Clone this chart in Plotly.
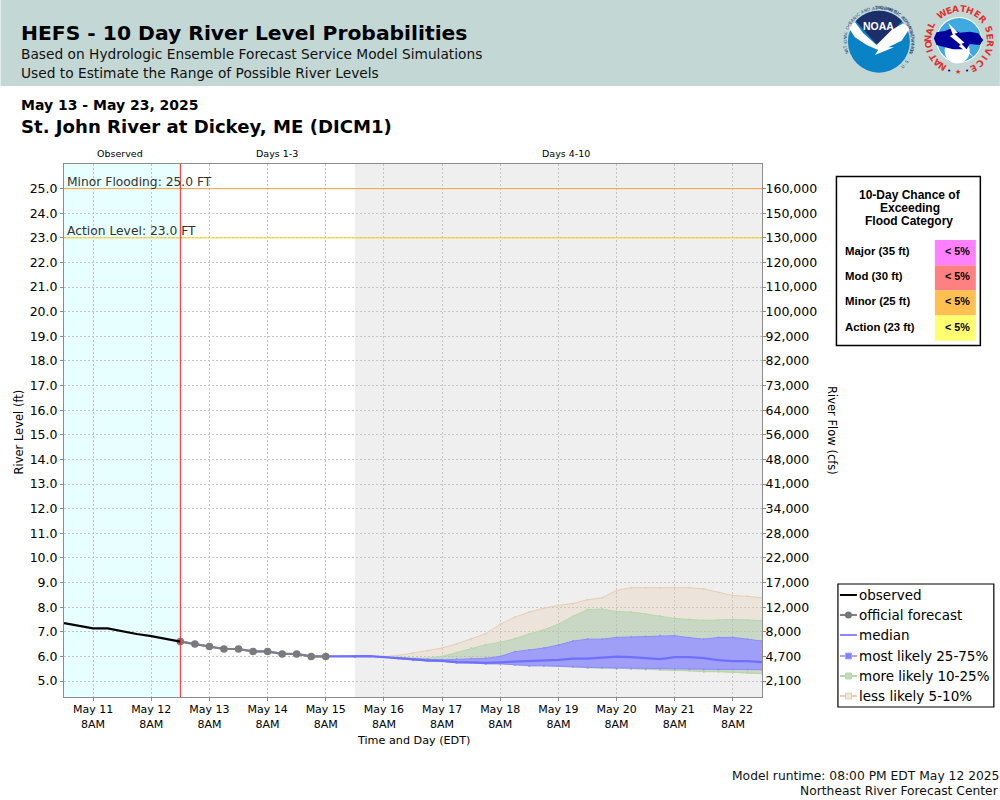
import math
import plotly.graph_objects as go

# ---------- data ----------
obs_times = ["2025-05-10 20:00","2025-05-11 02:00","2025-05-11 08:00","2025-05-11 14:00","2025-05-11 20:00",
             "2025-05-12 02:00","2025-05-12 08:00","2025-05-12 14:00","2025-05-12 20:00"]
obs_level = [7.35,7.25,7.14,7.14,7.02,6.91,6.82,6.72,6.60]

fcst_times = ["2025-05-12 20:00","2025-05-13 02:00","2025-05-13 08:00","2025-05-13 14:00","2025-05-13 20:00",
              "2025-05-14 02:00","2025-05-14 08:00","2025-05-14 14:00","2025-05-14 20:00","2025-05-15 02:00","2025-05-15 08:00"]
fcst_level = [6.6,6.5,6.4,6.3,6.3,6.2,6.2,6.1,6.1,6.0,6.0]

band_times = ["2025-05-15 20:00",
  "2025-05-16 02:00","2025-05-16 08:00","2025-05-16 14:00","2025-05-16 20:00",
  "2025-05-17 02:00","2025-05-17 08:00","2025-05-17 14:00","2025-05-17 20:00",
  "2025-05-18 02:00","2025-05-18 08:00","2025-05-18 14:00","2025-05-18 20:00",
  "2025-05-19 02:00","2025-05-19 08:00","2025-05-19 14:00","2025-05-19 20:00",
  "2025-05-20 02:00","2025-05-20 08:00","2025-05-20 14:00","2025-05-20 20:00",
  "2025-05-21 02:00","2025-05-21 08:00","2025-05-21 14:00","2025-05-21 20:00",
  "2025-05-22 02:00","2025-05-22 08:00","2025-05-22 14:00","2025-05-22 20:00"]
median = [6.0, 6.01,5.97,5.92,5.86, 5.84,5.82,5.77,5.76, 5.74,5.76,5.78,5.82, 5.85,5.86,5.91,5.91,
          5.95,5.99,5.97,5.93, 5.89,5.97,5.97,5.93, 5.85,5.81,5.81,5.77]
p95 = [6.0, 6.01,5.99,6.04,6.14, 6.23,6.34,6.51,6.70, 6.92,7.31,7.59,7.80, 7.96,8.07,8.15,8.30,
       8.38,8.68,8.79,8.79, 8.79,8.79,8.79,8.74, 8.60,8.47,8.44,8.38]
p90 = [6.0, 6.01,5.99,5.95,5.92, 5.92,6.00,6.16,6.34, 6.47,6.57,6.72,6.91, 7.08,7.31,7.63,7.90,
       7.92,7.82,7.80,7.72, 7.64,7.54,7.50,7.46, 7.48,7.50,7.48,7.45]
p75 = [6.0, 6.01,5.97,5.93,5.89, 5.88,5.86,5.89,5.91, 5.92,6.00,6.19,6.26, 6.34,6.46,6.62,6.70,
       6.70,6.77,6.79,6.81, 6.85,6.84,6.76,6.70, 6.77,6.77,6.70,6.62]
p25 = [6.0, 6.01,5.97,5.91,5.84, 5.81,5.80,5.74,5.74, 5.70,5.70,5.66,5.62, 5.62,5.61,5.58,5.55,
       5.54,5.51,5.51,5.50, 5.50,5.49,5.49,5.47, 5.47,5.47,5.47,5.46]
p10 = [6.0, 6.01,5.97,5.91,5.84, 5.81,5.80,5.74,5.74, 5.70,5.70,5.66,5.62, 5.62,5.61,5.57,5.54,
       5.54,5.51,5.50,5.47, 5.46,5.43,5.42,5.38, 5.38,5.35,5.34,5.30]
p05 = list(p10)

stage_ticks = list(range(5, 26))
flow_labels = ["2,100","4,700","8,000","12,000","17,000","22,000","28,000","34,000","41,000","48,000","56,000",
               "64,000","73,000","82,000","92,000","100,000","110,000","120,000","130,000","150,000","160,000"]
day_ticks = ["2025-05-%02d 08:00" % d for d in range(11, 23)]
day_labels = ["May %d<br>8AM" % d for d in range(11, 23)]

x_start, x_end = "2025-05-10 20:00", "2025-05-22 20:00"
fcst_start, ensemble_start = "2025-05-12 20:00", "2025-05-15 20:00"
y_range = [4.35, 26.0]
flood_minor, flood_action = 25.0, 23.0

table_rows = ["Major (35 ft)", "Mod (30 ft)", "Minor (25 ft)", "Action (23 ft)"]
table_vals = ["< 5%", "< 5%", "< 5%", "< 5%"]
table_cols = ["#ff80ff", "#ff8080", "#ffc050", "#ffff70"]
legend_names = ["observed", "official forecast", "median", "most likely 25-75%", "more likely 10-25%", "less likely 5-10%"]

# ---------- layout helpers (pixel frame of the 1000x800 page) ----------
L, R, T, B = 63.5, 762.0, 164.0, 697.0
def px(x): return (x - L) / (R - L)
def py(y): return (B - y) / (B - T)
DJ = "DejaVu Sans"
LS = "Liberation Sans"
INSET = 1.5  # annotations sit slightly inside their anchor

anns, shapes = [], []
def text(x, y, s, size=12, color="#000", font=DJ, bold=False, xa="left", ya="middle", angle=0):
    x = x - INSET if xa == "left" else x + INSET if xa == "right" else x
    anns.append(dict(xref="paper", yref="paper", x=px(x), y=py(y), text=("<b>%s</b>" % s) if bold else s,
                     showarrow=False, xanchor=xa, yanchor=ya, textangle=angle,
                     borderpad=0, font=dict(family=font, size=size, color=color)))
def rect(x0, y0, x1, y1, fill, line=None, lw=0):
    shapes.append(dict(type="rect", xref="paper", yref="paper", x0=px(x0), x1=px(x1), y0=py(y0), y1=py(y1),
                       fillcolor=fill, line=dict(color=line or fill, width=lw), layer="above"))
def seg(x0, y0, x1, y1, color, lw):
    shapes.append(dict(type="line", xref="paper", yref="paper", x0=px(x0), x1=px(x1), y0=py(y0), y1=py(y1),
                       line=dict(color=color, width=lw), layer="above"))
def circle(cx, cy, r, fill):
    shapes.append(dict(type="circle", xref="paper", yref="paper", x0=px(cx-r), x1=px(cx+r), y0=py(cy-r), y1=py(cy+r),
                       fillcolor=fill, line=dict(width=0), layer="above"))
def poly(pts, fill):
    d = "M " + " L ".join("%.5f,%.5f" % (px(a), py(b)) for a, b in pts) + " Z"
    shapes.append(dict(type="path", xref="paper", yref="paper", path=d, fillcolor=fill, line=dict(width=0), layer="above"))
def arc_text(cx, cy, r, s, a0, step, size, color, bold=True, font=LS, flip=False):
    for i, ch in enumerate(s):
        th = math.radians(a0 + i * step)
        x, y = cx + r * math.sin(th), cy - r * math.cos(th)
        if ch != " ":
            text(x, y, ch, size=size, color=color, bold=bold, font=font, xa="center", angle=(a0 + i*step + (180 if flip else 0)))

# header
rect(0, 0, 1000, 86, "#c3d7d4")
text(21, 33, "HEFS - 10 Day River Level Probabilities", 20.3, bold=True)
text(21, 54, "Based on Hydrologic Ensemble Forecast Service Model Simulations", 13.75, color="#111")
text(21, 73, "Used to Estimate the Range of Possible River Levels", 13.75, color="#111")
text(21, 105, "May 13 - May 23, 2025", 14, bold=True)
text(21, 126, "St. John River at Dickey, ME (DICM1)", 18.1, bold=True)

# NOAA emblem
nx, ny = 879, 41.7
circle(nx, ny, 31, "#0a82c6")
navy = [(nx + 31*math.sin(math.radians(a)), ny - 31*math.cos(math.radians(a))) for a in range(-48, 50, 8)]
poly(navy + [(nx+3, ny+2), (nx-3, ny+2)], "#1d2f6b")
z = lambda a, b: (820 + a/3, b/3)
poly([z(85,82), z(105,66), z(130,100), z(170,135), z(215,90), z(250,70), z(270,85), z(245,122), z(205,142),
      z(222,142), z(165,165), z(175,150), z(140,135), z(105,112)], "#ffffff")
text(nx, 25.5, "NOAA", 10.5, color="#ffffff", bold=True, font=LS, xa="center")
arc_text(nx, ny, 34, "NATIONAL OCEANIC AND ATMOSPHERIC ADMINISTRATION", -108, 4.7, 4.2, "#26406f", bold=False, font=DJ)
arc_text(nx, ny, 34, "U.S. DEPARTMENT OF COMMERCE", 136, -3.4*1.6, 4.2, "#26406f", bold=False, font=DJ, flip=True)

# NWS emblem
wx, wy = 959.3, 40
w = lambda a, b: (920 + a/3, b/3)
circle(wx, wy, 23, "#ffffff")
circle(wx, wy, 22, "#3fa9e0")
circle(wx - 2, wy + 11, 12.5, "#ffffff")
poly([w(42,115), w(50,97), w(75,93), w(95,85), w(120,98), w(150,95), w(175,100), w(190,120), w(180,135), w(150,132),
      w(140,148), w(100,148), w(70,140), w(50,135)], "#00009a")
poly([w(85,68), w(114,98), w(104,101), w(134,128), w(125,131), w(162,172), w(116,138), w(123,135), w(90,108), w(99,104)], "#ffffff")
arc_text(wx, wy, 31, "NATIONAL", -148, 12.3, 9, "#e2302f", font=DJ)
arc_text(wx, wy, 31, "WEATHER", -33, 13.5, 9, "#e2302f", font=DJ)
arc_text(wx, wy, 31, "SERVICE", 70, 13.7, 9, "#e2302f", font=DJ)
text(949.3, 71, "•", 7, color="#00009a", xa="center")
text(957.7, 71.5, "★", 7, color="#e2302f", xa="center")
text(966.7, 71, "•", 7, color="#00009a", xa="center")

# period labels
text(120, 153.5, "Observed", 9.5, xa="center")
text(276.5, 153.5, "Days 1-3", 9.5, xa="center")
text(566, 153.5, "Days 4-10", 9.5, xa="center")

# flood labels
text(67, 181.5, "Minor Flooding: 25.0 FT", 12.3, color="#333")
text(67, 231, "Action Level: 23.0 FT", 12.3, color="#333")

# axis titles
text(18, 432, "River Level (ft)", 11.5, xa="center", angle=-90)
text(832, 431, "River Flow (cfs)", 11.5, xa="center", angle=90)
text(413, 740, "Time and Day (EDT)", 11.2, xa="center")
text(999, 776, "Model runtime: 08:00 PM EDT May 12 2025", 12.3, xa="right", color="#111")
text(999, 791, "Northeast River Forecast Center", 12.3, xa="right", color="#111")

# chance table
rect(836.5, 176.5, 980.5, 345.5, "#ffffff", "#000000", 1.5)
text(910, 195, "10-Day Chance of", 12, bold=True, font=LS, xa="center")
text(910, 208, "Exceeding", 12, bold=True, font=LS, xa="center")
text(909, 221, "Flood Category", 12, bold=True, font=LS, xa="center")
for i, (lab, val, col) in enumerate(zip(table_rows, table_vals, table_cols)):
    top = 240 + i * 25.2
    rect(935, top, 976, top + 25.2, col)
    text(846, top + 11, lab, 11.4, bold=True, font=LS)
    text(957.5, top + 11, val, 10.8, bold=True, font=LS, xa="center")

# legend box
rect(838, 584, 994, 707, "#ffffff", "#000000", 1.2)
leg_y = [595, 615, 635, 656, 676, 696]
leg_line = ["#000000", "#808080", "#8a8aff", "#a8a8ff", "#b4d8aa", "#e5cfb3"]
leg_mark = [None, "c", None, "#8080ff", "#c0dcb8", "#efe6da"]
for yy, nm, lc, mk in zip(leg_y, legend_names, leg_line, leg_mark):
    seg(840, yy, 857, yy, lc, 2)
    if mk == "c":
        circle(848.5, yy, 3.5, "#757575")
    elif mk:
        rect(845.5, yy - 3, 851.5, yy + 3, mk, lc, 1)
    text(860, yy, nm, 13.5)

# data-anchored regions and reference lines
shapes += [
    dict(type="rect", xref="x", yref="paper", x0=x_start, x1=fcst_start, y0=0, y1=1, fillcolor="#e8ffff", line=dict(width=0), layer="below"),
    dict(type="rect", xref="x", yref="paper", x0=ensemble_start, x1=x_end, y0=0, y1=1, fillcolor="#efefef", line=dict(width=0), layer="below"),
    dict(type="line", xref="paper", yref="y", x0=0, x1=1, y0=flood_minor, y1=flood_minor, line=dict(color="#ffa040", width=1), layer="above"),
    dict(type="line", xref="paper", yref="y", x0=0, x1=1, y0=flood_action, y1=flood_action, line=dict(color="#f5d020", width=1), layer="above"),
    dict(type="line", xref="x", yref="paper", x0=fcst_start, x1=fcst_start, y0=0, y1=1, line=dict(color="#ff2020", width=1), layer="above"),
]

# ---------- traces ----------
fig = go.Figure()
def band(lo, hi, edge, fill):
    fig.add_trace(go.Scatter(x=band_times, y=lo, mode="lines+markers", line=dict(color=edge, width=1), marker=dict(size=2, color=edge),
                             showlegend=False, hoverinfo="skip"))
    fig.add_trace(go.Scatter(x=band_times, y=hi, mode="lines+markers", line=dict(color=edge, width=1), marker=dict(size=2, color=edge),
                             fill="tonexty", fillcolor=fill, showlegend=False, hoverinfo="skip"))

band(p05, p95, "#e5cfb3", "rgba(229,202,169,0.3)")
band(p10, p90, "#b4d8aa", "rgba(136,194,158,0.35)")
band(p25, p75, "#8c8cff", "rgba(152,149,255,0.85)")

MEDIAN = "#6f6fff"
fig.add_trace(go.Scatter(x=fcst_times + band_times, y=fcst_level + median, mode="lines", line=dict(color=MEDIAN, width=2.2), showlegend=False))
fig.add_trace(go.Scatter(x=fcst_times, y=fcst_level, mode="lines+markers", line=dict(color="#808080", width=2),
                         marker=dict(color="#7a7a7a", size=7.5), showlegend=False))
fig.add_trace(go.Scatter(x=obs_times, y=obs_level, mode="lines", line=dict(color="#000000", width=2.2), showlegend=False))
# right-hand axis carrier
fig.add_trace(go.Scatter(x=[x_start, x_end], y=[5, 5], yaxis="y2", mode="lines", line=dict(width=0), opacity=0, showlegend=False, hoverinfo="skip"))

AXC = "#8c8c8c"
GRID = "#c4c4c4"
fig.update_layout(
    width=1000, height=800, autosize=False, showlegend=False,
    margin=dict(l=L, r=1000-R, t=T, b=800-B, pad=0),
    paper_bgcolor="#ffffff", plot_bgcolor="#ffffff",
    font=dict(family=DJ, size=12, color="#000"),
    hovermode=False, shapes=shapes, annotations=anns,
    xaxis=dict(type="date", range=[x_start, x_end], tickmode="array", tickvals=day_ticks, ticktext=day_labels,
               tickfont=dict(size=11), showgrid=True, griddash="2px,2px", gridcolor=GRID, gridwidth=1, ticklabelstandoff=-1,
               ticks="outside", ticklen=3, tickcolor=AXC, showline=True, linecolor=AXC, linewidth=1, mirror=True, zeroline=False),
    yaxis=dict(range=y_range, tickmode="array", tickvals=stage_ticks, ticktext=["%.1f" % v for v in stage_ticks],
               tickfont=dict(size=12.5), showgrid=True, griddash="2px,2px", gridcolor=GRID, gridwidth=1,
               ticks="outside", ticklen=3, tickcolor=AXC, showline=True, linecolor=AXC, linewidth=1, zeroline=False),
    yaxis2=dict(range=y_range, overlaying="y", side="right", tickmode="array", tickvals=stage_ticks, ticktext=flow_labels,
                tickfont=dict(size=12.5), showgrid=False, ticks="outside", ticklen=3, tickcolor=AXC, ticklabelstandoff=-3,
                showline=True, linecolor=AXC, linewidth=1, zeroline=False),
)
fig.write_html("out.html", config=dict(displayModeBar=False),
               post_script="document.body.style.margin='0';document.documentElement.style.overflow='hidden';")
